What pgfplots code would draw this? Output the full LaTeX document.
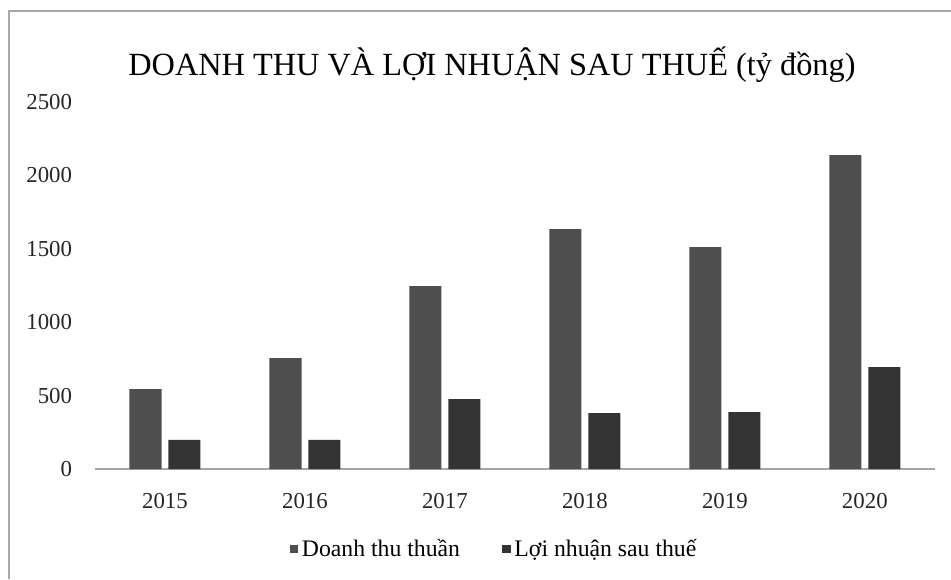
\documentclass[border=0pt]{standalone}
\usepackage{fontspec}
\setmainfont{Liberation Serif}
\usepackage{pgfplots}
\pgfplotsset{compat=1.18}
\definecolor{dtcol}{HTML}{4E4E4E}
\definecolor{lncol}{HTML}{333333}
\definecolor{framecol}{HTML}{A8A8A8}
\begin{document}
\begin{tikzpicture}[x=0.02cm,y=0.02cm]
\useasboundingbox (0,0) rectangle (951,579);
\fill[white] (0,0) rectangle (951,579);
\draw[framecol,line width=1.2pt] (9,0) -- (9,568) -- (951,568);
\node[font=\fontsize{18.4}{21}\selectfont] at (492,514) {DOANH THU VÀ LỢI NHUẬN SAU THUẾ (tỷ đồng)};
\begin{axis}[
  at={(1.9cm,2.2cm)}, anchor=south west,
  scale only axis, width=16.8cm, height=7.34cm,
  xmin=-0.5, xmax=5.5, ymin=0, ymax=2500,
  axis lines*=left,
  x axis line style={draw=gray!70, line width=0.8pt},
  y axis line style={draw=none},
  xtick={0,1,2,3,4,5},
  xticklabels={2015,2016,2017,2018,2019,2020},
  ytick={0,500,1000,1500,2000,2500},
  major tick length=0pt,
  tick label style={font=\fontsize{13}{15}\selectfont, text=black!85},
  xticklabel style={yshift=-10.5pt},
  yticklabel style={xshift=-9.5pt},
  /pgf/number format/assume math mode=true,
  /pgf/number format/1000 sep={},
  legend style={at={(0.476,-0.218)}, anchor=center, draw=none, fill=none,
    font=\fontsize{13.5}{15}\selectfont, legend columns=2,
    /tikz/every even column/.append style={column sep=22pt}},
  legend image code/.code={\fill[#1] (0pt,-2.5pt) rectangle (5pt,2.5pt);},
]
\addplot[ybar, bar width=0.229, bar shift=-0.139, fill=dtcol, draw=none]
  coordinates {(0,545) (1,756) (2,1247) (3,1635) (4,1512) (5,2139)};
\addlegendentry{Doanh thu thuần}
\addplot[ybar, bar width=0.229, bar shift=0.139, fill=lncol, draw=none]
  coordinates {(0,198) (1,198) (2,477) (3,381) (4,388) (5,695)};
\addlegendentry{Lợi nhuận sau thuế}
\end{axis}
\end{tikzpicture}
\end{document}
